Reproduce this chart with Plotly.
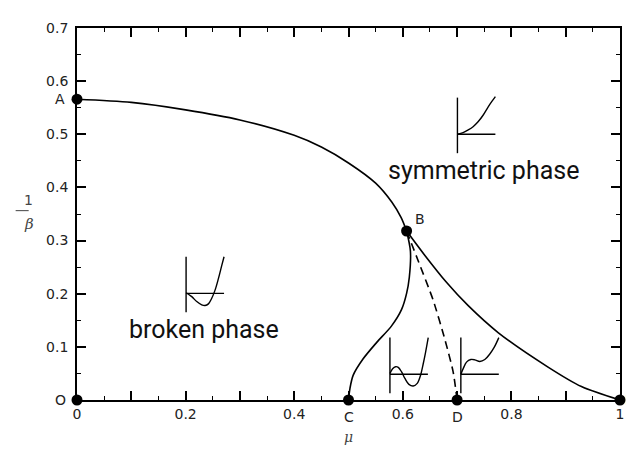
import plotly.graph_objects as go

# ---- data ----
ab_x = [0.0, 0.1, 0.2, 0.3, 0.4, 0.45, 0.5, 0.55, 0.58, 0.597, 0.607]
ab_y = [0.566, 0.560, 0.546, 0.527, 0.498, 0.476, 0.446, 0.408, 0.372, 0.343, 0.318]

be_x = [0.607, 0.64, 0.68, 0.72, 0.7755, 0.8675, 0.929, 1.0]
be_y = [0.318, 0.273, 0.222, 0.178, 0.127, 0.062, 0.0253, 0.0]

bc_x = [0.607, 0.614, 0.612, 0.607, 0.5976, 0.579, 0.5516, 0.527, 0.5087, 0.5027, 0.5]
bc_y = [0.318, 0.2805, 0.231, 0.2006, 0.170, 0.139, 0.108, 0.0775, 0.0467, 0.022, 0.0]

bd_x = [0.607, 0.6283, 0.6559, 0.6775, 0.6927, 0.7]
bd_y = [0.318, 0.262, 0.188, 0.114, 0.053, 0.0]

pt_names = ["A", "B", "C", "D", "E", "O"]
pt_x = [0.0, 0.607, 0.5, 0.7, 1.0, 0.0]
pt_y = [0.566, 0.318, 0.0, 0.0, 0.0, 0.0]

x_tickvals = [0, 0.1, 0.2, 0.3, 0.4, 0.5, 0.6, 0.7, 0.8, 0.9, 1.0]
x_ticktext = ["0", "", "0.2", "", "0.4", "", "0.6", "", "0.8", "", "1"]
y_tickvals = [0, 0.1, 0.2, 0.3, 0.4, 0.5, 0.6, 0.7]
y_ticktext = ["", "0.1", "0.2", "0.3", "0.4", "0.5", "0.6", "0.7"]

# inset sketches: local offsets (in 1/3-pixel units), relative to the inset origin
sym_curve = [(0, 0), (17, -5), (32, -13), (47, -23), (62, -38), (77, -58), (92, -83), (104, -101), (114, -115)]
brk_curve = [(0, -2), (17, 10), (32, 25), (47, 35), (57, 37), (67, 32), (77, 15), (87, -10), (97, -45), (107, -85), (114, -112)]
dw_curve = [(0, -2), (8, -17), (17, -23), (25, -21), (35, -7), (45, 13), (57, 31), (70, 36), (82, 28), (92, 3), (100, -32), (107, -67), (115, -112)]
ms_curve = [(0, 0), (7, -17), (17, -37), (30, -45), (42, -44), (57, -39), (72, -45), (87, -62), (100, -82), (114, -112)]
inset_origins = [(0.7006, 0.5001), (0.2009, 0.2006), (0.5763, 0.0485), (0.7069, 0.0485)]
inset_curves = [sym_curve, brk_curve, dw_curve, ms_curve]

# ---- figure ----
fig = go.Figure()
line = dict(color="black", width=1.6)

fig.add_trace(go.Scatter(x=ab_x, y=ab_y, mode="lines", line=dict(line, shape="spline", smoothing=0.8)))
fig.add_trace(go.Scatter(x=be_x, y=be_y, mode="lines", line=dict(line, shape="spline", smoothing=0.8)))
fig.add_trace(go.Scatter(x=bc_x, y=bc_y, mode="lines", line=dict(line, shape="spline", smoothing=0.8)))
fig.add_trace(go.Scatter(x=bd_x, y=bd_y, mode="lines",
                         line=dict(color="black", width=1.6, dash="8px,5px", shape="spline", smoothing=0.6)))

SX = 3 * 543.5
SY = 3 * 541.9
for (ox, oy), curve in zip(inset_origins, inset_curves):
    # axes of the sketch
    fig.add_trace(go.Scatter(x=[ox, ox], y=[oy + 112 / SY, oy - 58 / SY], mode="lines",
                             line=dict(color="black", width=1.4)))
    fig.add_trace(go.Scatter(x=[ox, ox + 114 / SX], y=[oy, oy], mode="lines",
                             line=dict(color="black", width=1.4)))
    fig.add_trace(go.Scatter(x=[ox + p[0] / SX for p in curve], y=[oy - p[1] / SY for p in curve],
                             mode="lines", line=dict(color="black", width=1.4, shape="spline")))

fig.add_trace(go.Scatter(x=pt_x, y=pt_y, mode="markers", cliponaxis=False,
                         marker=dict(color="black", size=11)))

label_pos = {"A": (-17, 0, "center"), "B": (13, 12, "center"), "C": (0, -17, "center"),
             "D": (0, -17, "center"), "E": (4, 0, "left"), "O": (-17, 0, "center")}
for n, x, y in zip(pt_names, pt_x, pt_y):
    dx, dy, anc = label_pos[n]
    fig.add_annotation(x=x, y=y, text=n, showarrow=False, xshift=dx, yshift=dy, xanchor=anc,
                       borderpad=0, font=dict(family="DejaVu Sans", size=14, color="#222"))

fig.add_annotation(x=0.748, y=0.431, text="symmetric phase", showarrow=False,
                   font=dict(family="Roboto", size=25, color="#111"))
fig.add_annotation(x=0.234, y=0.133, text="broken phase", showarrow=False,
                   font=dict(family="Roboto", size=25, color="#111"))

# axis titles
fig.add_annotation(xref="paper", yref="paper", x=0.5, y=-0.127, text="<i>μ</i>", showarrow=False,
                   font=dict(family="DejaVu Serif", size=14, color="#444"))
fig.add_annotation(xref="paper", yref="paper", x=-0.101, y=0.538, text="1", showarrow=False,
                   font=dict(family="DejaVu Sans", size=14, color="#444"))
fig.add_annotation(xref="paper", yref="paper", x=-0.101, y=0.473, text="<i>β</i>", showarrow=False,
                   font=dict(family="DejaVu Serif", size=15, color="#444"))
fig.add_shape(type="line", xref="paper", yref="paper", x0=-0.113, x1=-0.089, y0=0.509, y1=0.509,
              line=dict(color="#444", width=1))

axis_common = dict(showline=True, linecolor="black", linewidth=1.8, mirror="ticks",
                   ticks="inside", ticklen=9, tickwidth=1.5, tickcolor="black",
                   showgrid=False, zeroline=False,
                   tickfont=dict(family="DejaVu Sans", size=14, color="#222"),
                   minor=dict(ticks="inside", ticklen=4.5, tickwidth=1.2, tickcolor="black", dtick=0.05, showgrid=False))

fig.update_xaxes(range=[0, 1], tickmode="array", tickvals=x_tickvals, ticktext=x_ticktext, **axis_common)
fig.update_yaxes(range=[0, 0.7], tickmode="array", tickvals=y_tickvals, ticktext=y_ticktext,
                 ticklabelstandoff=4, **axis_common)

fig.update_layout(width=634, height=455, margin=dict(l=69, r=22, t=13, b=63),
                  plot_bgcolor="white", paper_bgcolor="white", showlegend=False)

fig.write_html("out.html")
